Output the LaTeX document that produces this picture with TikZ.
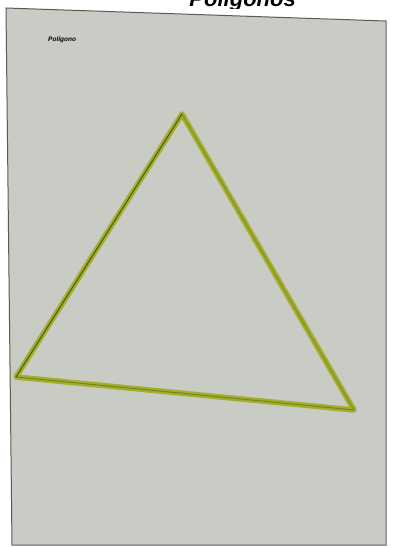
\documentclass[tikz,border=0pt]{standalone}
\usepackage{fontspec}
\setsansfont{Liberation Sans}
\usetikzlibrary{positioning}
\definecolor{papergray}{rgb}{0.79,0.80,0.77}
\definecolor{paperedge}{rgb}{0.35,0.36,0.33}
\definecolor{marcador}{rgb}{0.64,0.68,0.18}
\definecolor{marcadoroscuro}{rgb}{0.30,0.34,0.06}
\tikzset{
  hoja/.style={
    fill=papergray,
    draw=paperedge,
    line width=1pt
  },
  lado/.style={
    line width=5.5pt,
    marcador,
    line join=round,
    line cap=round
  },
  trazo/.style={
    line width=1pt,
    marcadoroscuro,
    line join=round,
    line cap=round
  },
  rotulo/.style={
    font=\sffamily\bfseries\itshape\fontsize{6.5}{7}\selectfont,
    inner sep=0pt
  },
  titulo/.style={
    font=\sffamily\bfseries\itshape\fontsize{22}{24}\selectfont,
    inner sep=0pt,
    anchor=base east
  }
}

\begin{document}
\begin{tikzpicture}[x=1pt,y=-1pt]
\useasboundingbox[fill=white] (0,0) rectangle (393,547);
% titulo recortado arriba
\begin{scope}
\clip (0,0) rectangle (393,8);
\node[titulo] (tit) at (296,6) {Polígonos};
\end{scope}
% hoja
\draw[hoja] (6,8) -- (386,21) -- (386,545) -- (12,545) -- cycle;
\node[rotulo, anchor=west] (nombre) at (48,40) {Polígono};
% triangulo
\coordinate (arriba) at (182,114);
\coordinate (izq) at (16,377);
\coordinate (der) at (354,410);
\draw[lado] (arriba) -- (der) -- (izq) -- cycle;
\draw[trazo] (arriba) -- (izq);
\draw[trazo, opacity=.5] (izq) -- (der);
\draw[trazo, opacity=.35] (arriba) -- (der);
\end{tikzpicture}
\end{document}
